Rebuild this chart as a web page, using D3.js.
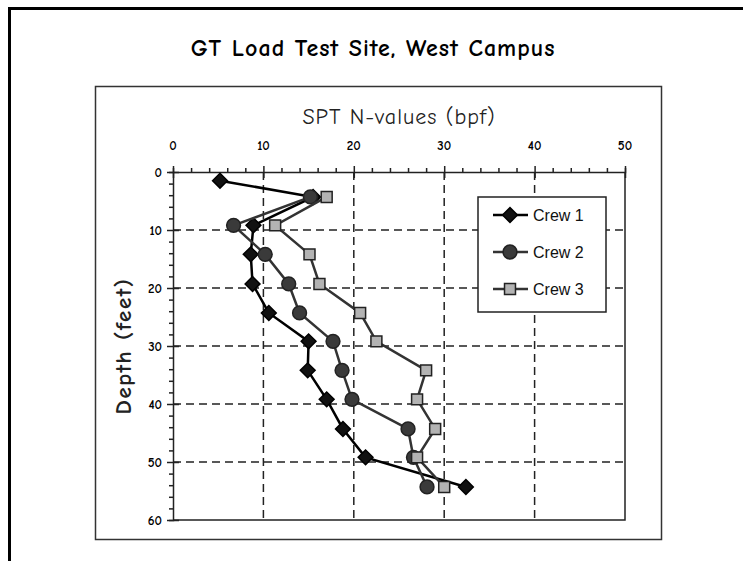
<!DOCTYPE html>
<html>
<head>
<meta charset="utf-8">
<script src="https://cdn.jsdelivr.net/npm/d3@7"></script>
<style>
  body { margin: 0; background: #fff; }
  svg { display: block; }
</style>
</head>
<body>
<svg id="chart" width="743" height="561"></svg>
<script>
// depths (ft) and SPT N-values
const depths = [4.3, 9.2, 14.2, 19.3, 24.3, 29.2, 34.2, 39.2, 44.3, 49.2, 54.3];
const crew1Depths = [1.5].concat(depths);
const crew1 = [5.2, 15.5, 8.9, 8.6, 8.8, 10.6, 15.0, 14.9, 17.0, 18.8, 21.3, 32.4];
const crew2 = [15.2, 6.7, 10.2, 12.8, 14.0, 17.7, 18.7, 19.8, 26.0, 26.6, 28.1];
const crew3 = [17.0, 11.3, 15.1, 16.2, 20.7, 22.5, 28.0, 27.0, 29.0, 27.0, 30.0];
const seriesNames = ['Crew 1', 'Crew 2', 'Crew 3'];
const xTicks = [0, 10, 20, 30, 40, 50];
const yTicks = [0, 10, 20, 30, 40, 50, 60];

const svg = d3.select('#chart');
const comic = '"Comic Sans MS", "Comic Neue", "DejaVu Sans", sans-serif';
const margin = { top: 172, right: 118, bottom: 41, left: 173 };
const width = 743, height = 561;

const x = d3.scaleLinear().domain([0, 50]).range([margin.left, width - margin.right]);
const y = d3.scaleLinear().domain([0, 60]).range([margin.top, height - margin.bottom]);

// outer frame (only top and left edges visible) and chart area box
svg.append('path')
  .attr('d', 'M9.5,561 V8.5 H743')
  .attr('fill', 'none')
  .attr('stroke', '#000')
  .attr('stroke-width', 3);
svg.append('rect')
  .attr('x', 95.5).attr('y', 86.5)
  .attr('width', 566).attr('height', 453)
  .attr('fill', 'none')
  .attr('stroke', '#333')
  .attr('stroke-width', 1.5);

svg.append('text')
  .attr('x', 373).attr('y', 56)
  .attr('text-anchor', 'middle')
  .attr('font-family', comic)
  .attr('font-size', 24)
  .attr('font-weight', 'bold')
  .attr('letter-spacing', 1)
  .text('GT Load Test Site, West Campus');

// dashed grid
svg.append('g')
  .selectAll('line')
  .data(xTicks.slice(1, -1))
  .join('line')
    .attr('x1', d => x(d)).attr('x2', d => x(d))
    .attr('y1', y(0)).attr('y2', y(60))
    .attr('stroke', '#222')
    .attr('stroke-dasharray', '8,5')
    .attr('stroke-width', 1.5);
svg.append('g')
  .selectAll('line')
  .data(yTicks.slice(1, -1))
  .join('line')
    .attr('x1', x(0)).attr('x2', x(50))
    .attr('y1', d => y(d)).attr('y2', d => y(d))
    .attr('stroke', '#222')
    .attr('stroke-dasharray', '8,5')
    .attr('stroke-width', 1.5);

// right and bottom borders of plot
svg.append('path')
  .attr('d', `M${x(50)},${y(0)} V${y(60)} H${x(0)}`)
  .attr('fill', 'none')
  .attr('stroke', '#222')
  .attr('stroke-width', 1.5);

// top axis: minor ticks every 2, major ticks cross the line
const topAxis = svg.append('g').attr('transform', `translate(0,${y(0)})`);
topAxis.call(d3.axisTop(x).tickValues(d3.range(0, 51, 2)).tickSize(4).tickFormat(''));
topAxis.call(g => g.selectAll('.tick').filter(d => d % 10 === 0).select('line')
  .attr('y1', 6).attr('y2', -6));
topAxis.append('g')
  .selectAll('text')
  .data(xTicks)
  .join('text')
    .attr('x', d => x(d)).attr('y', -22)
    .attr('text-anchor', 'middle')
    .attr('font-family', comic)
    .attr('font-size', 13)
    .attr('font-weight', 'bold')
    .attr('fill', '#000')
    .text(d => d);
topAxis.selectAll('.domain, line').attr('stroke', '#222').attr('stroke-width', 1.5);

// left axis
const leftAxis = svg.append('g').attr('transform', `translate(${x(0)},0)`);
leftAxis.call(d3.axisLeft(y).tickValues(d3.range(0, 61, 2)).tickSize(4).tickFormat(''));
leftAxis.call(g => g.selectAll('.tick').filter(d => d % 10 === 0).select('line')
  .attr('x1', 6).attr('x2', -6));
leftAxis.append('g')
  .selectAll('text')
  .data(yTicks)
  .join('text')
    .attr('x', -11).attr('y', d => y(d))
    .attr('dy', '0.35em')
    .attr('text-anchor', 'end')
    .attr('font-family', comic)
    .attr('font-size', 13)
    .attr('font-weight', 'bold')
    .attr('fill', '#000')
    .text(d => d);
leftAxis.selectAll('.domain, line').attr('stroke', '#222').attr('stroke-width', 1.5);

// axis titles
svg.append('text')
  .attr('x', 399).attr('y', 124)
  .attr('text-anchor', 'middle')
  .attr('font-family', comic)
  .attr('font-size', 22)
  .attr('letter-spacing', 1)
  .attr('fill', '#222')
  .text('SPT N-values (bpf)');
svg.append('text')
  .attr('transform', `translate(131,${(y(0) + y(60)) / 2}) rotate(-90)`)
  .attr('text-anchor', 'middle')
  .attr('font-family', comic)
  .attr('font-size', 23)
  .attr('font-weight', 'bold')
  .attr('letter-spacing', 1.5)
  .attr('fill', '#222')
  .text('Depth (feet)');

// series
const series = [
  { name: seriesNames[0], values: crew1, depths: crew1Depths, line: '#000', fill: '#111', stroke: '#000',
    symbol: d3.symbolSquare, size: 110, rotate: 45 },
  { name: seriesNames[1], values: crew2, depths: depths, line: '#333', fill: '#3a3a3a', stroke: '#222',
    symbol: d3.symbolCircle, size: 150, rotate: 0 },
  { name: seriesNames[2], values: crew3, depths: depths, line: '#333', fill: '#b3b3b3', stroke: '#222',
    symbol: d3.symbolSquare, size: 120, rotate: 0 }
];

const line = d3.line().x(d => x(d[0])).y(d => y(d[1]));

series.forEach(s => {
  const pts = s.values.map((v, i) => [v, s.depths[i]]);
  const g = svg.append('g');
  g.append('path')
    .datum(pts)
    .attr('d', line)
    .attr('fill', 'none')
    .attr('stroke', s.line)
    .attr('stroke-width', 2.5);
  g.selectAll('path.mark')
    .data(pts)
    .join('path')
      .attr('class', 'mark')
      .attr('transform', d => `translate(${x(d[0])},${y(d[1])}) rotate(${s.rotate})`)
      .attr('d', d3.symbol(s.symbol, s.size))
      .attr('fill', s.fill)
      .attr('stroke', s.stroke)
      .attr('stroke-width', 1.5);
});

// legend
const legend = svg.append('g').attr('transform', 'translate(478,197)');
legend.append('rect')
  .attr('width', 128).attr('height', 115)
  .attr('fill', '#fff')
  .attr('stroke', '#222')
  .attr('stroke-width', 1.5);
series.forEach((s, i) => {
  const row = legend.append('g').attr('transform', `translate(0,${18 + i * 37})`);
  row.append('line')
    .attr('x1', 15).attr('x2', 50)
    .attr('stroke', s.line)
    .attr('stroke-width', 2.5);
  row.append('path')
    .attr('transform', `translate(32,0) rotate(${s.rotate})`)
    .attr('d', d3.symbol(s.symbol, s.size))
    .attr('fill', s.fill)
    .attr('stroke', s.stroke)
    .attr('stroke-width', 1.5);
  row.append('text')
    .attr('x', 55).attr('dy', '0.35em')
    .attr('font-family', 'Arial, "Liberation Sans", sans-serif')
    .attr('font-size', 16)
    .attr('fill', '#111')
    .text(s.name);
});
</script>
</body>
</html>
